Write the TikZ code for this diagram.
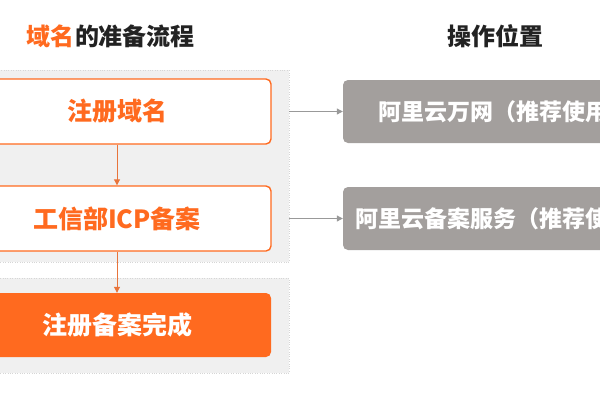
\documentclass[tikz,border=0pt]{standalone}
\usepackage{fontspec}
\setmainfont{Noto Sans CJK SC}
\usetikzlibrary{arrows.meta}
\definecolor{org}{HTML}{FF6A1F}
\definecolor{orgline}{HTML}{E8743B}
\definecolor{gbox}{HTML}{A39F9D}
\definecolor{gline}{HTML}{999999}
\definecolor{panelc}{HTML}{F0F0F0}
\definecolor{paneld}{HTML}{D6D6D6}
\definecolor{dark}{HTML}{222222}
\tikzset{
  panel/.style={draw=paneld, dotted, fill=panelc, inner sep=0pt},
  stepbox/.style={draw=org, line width=1.4pt, rounded corners=5pt, fill=white, minimum width=308pt, text=org, font=\fontsize{25}{28}\selectfont\bfseries},
  donebox/.style={fill=org, rounded corners=5pt, minimum width=308pt, text=white, font=\fontsize{25}{28}\selectfont\bfseries},
  graybox/.style={fill=gbox, rounded corners=5pt, minimum width=324pt, text=white, font=\fontsize{23}{26}\selectfont\bfseries},
  title/.style={font=\fontsize{24}{27}\selectfont\bfseries, text=dark},
  oarrow/.style={draw=orgline, line width=1pt, -{Triangle[length=6pt,width=6pt]}},
  garrow/.style={draw=gline, line width=1pt, -{Triangle[length=6pt,width=6pt]}},
}
\begin{document}
\begin{tikzpicture}[x=1pt,y=-1pt]
\useasboundingbox (0,0) rectangle (600,400);
\clip (0,0) rectangle (600,400);
\node[panel, minimum width=339pt, minimum height=192pt] (p1) at (119.5,166) {};
\node[panel, minimum width=339pt, minimum height=95pt] (p2) at (119.5,325.5) {};
\node[title] (t1) at (111,36) {\textcolor{org}{域名}的准备流程};
\node[title] (t2) at (495,36) {操作位置};
\node[stepbox, minimum height=65pt] (b1) at (117,111.5) {注册域名};
\node[stepbox, minimum height=65pt] (b2) at (117,218.5) {工信部ICP备案};
\node[donebox, minimum height=64pt] (b3) at (117,325) {注册备案完成};
\node[graybox, minimum height=63pt] (g1) at (505,111.5) {阿里云万网（推荐使用）};
\node[graybox, minimum height=63pt] (g2) at (505,218.5) {阿里云备案服务（推荐使用）};
\draw[oarrow] (b1) -- (b2);
\draw[oarrow] (b2) -- (b3);
\draw[garrow] (p1.east |- g1.west) -- (g1.west);
\draw[garrow] (p1.east |- g2.west) -- (g2.west);
\end{tikzpicture}
\end{document}
